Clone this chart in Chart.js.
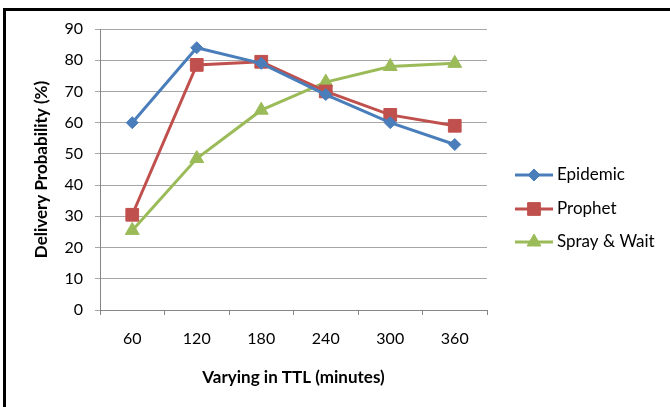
<!DOCTYPE html>
<html>
<head>
<meta charset="utf-8">
<script src="https://cdn.jsdelivr.net/npm/chart.js@4.4.0/dist/chart.umd.min.js"></script>
<style>
    body { margin: 0; background: #fff; overflow: hidden; }
    #frame { position: absolute; left: 3px; top: 8px; width: 700px; height: 450px; border: 3px solid #000; box-sizing: border-box; }
    #wrap { position: absolute; left: 0; top: 0; width: 670px; height: 407px; }
</style>
</head>
<body>
<div id="frame"></div>
<div id="wrap"><canvas id="ttlChart" width="670" height="407"></canvas></div>
<script>
const ttlLabels = ['60', '120', '180', '240', '300', '360'];
const epidemicValues = [60, 84, 79, 69, 60, 53];
const prophetValues = [30.5, 78.5, 79.5, 70, 62.5, 59];
const sprayWaitValues = [25.5, 48.5, 64, 73, 78, 79];

const fontFamily = 'Lato, "Noto Sans", sans-serif';

// Excel-style legend: short line with the marker in the middle
const lineLegend = {
    id: 'lineLegend',
    afterDraw: function (chart) {
        const ctx = chart.ctx;
        const x0 = 515, x1 = 553;
        const rows = [175, 209, 242];
        chart.data.datasets.forEach(function (ds, i) {
            const y = rows[i];
            ctx.save();
            ctx.strokeStyle = ds.borderColor;
            ctx.lineWidth = 3;
            ctx.beginPath();
            ctx.moveTo(x0, y);
            ctx.lineTo(x1, y);
            ctx.stroke();
            ctx.fillStyle = ds.pointBackgroundColor;
            ctx.strokeStyle = ds.pointBorderColor;
            ctx.lineWidth = 1;
            Chart.helpers.drawPoint(ctx, { pointStyle: ds.pointStyle, radius: ds.pointRadius, rotation: 0, borderWidth: 1 }, (x0 + x1) / 2, y);
            ctx.fillStyle = '#000';
            ctx.font = '17px ' + fontFamily;
            ctx.textBaseline = 'middle';
            ctx.textAlign = 'left';
            ctx.fillText(ds.label, x1 + 4, y);
            ctx.restore();
        });
    }
};

function seriesStyle(color, style, radius) {
    return {
        borderColor: color,
        backgroundColor: color,
        pointBackgroundColor: color,
        pointBorderColor: color,
        pointStyle: style,
        pointRadius: radius,
        pointHoverRadius: radius,
        pointBorderWidth: 1,
        borderWidth: 3,
        tension: 0,
        fill: false
    };
}

const ctx = document.getElementById('ttlChart').getContext('2d');
window.ttlChart = new Chart(ctx, {
    type: 'line',
    data: {
        labels: ttlLabels,
        datasets: [
            Object.assign({ label: 'Epidemic', data: epidemicValues }, seriesStyle('#4A7EBB', 'rectRot', 6)),
            Object.assign({ label: 'Prophet', data: prophetValues }, seriesStyle('#C0504D', 'rect', 9)),
            Object.assign({ label: 'Spray & Wait', data: sprayWaitValues }, seriesStyle('#9BBB59', 'triangle', 8))
        ]
    },
    options: {
        responsive: false,
        animation: false,
        devicePixelRatio: 1,
        layout: {
            padding: { left: 22, right: 183, top: 29, bottom: 0 }
        },
        scales: {
            x: {
                offset: true,
                afterFit: function (s) { s.height = 97; },
                grid: { offset: true, drawOnChartArea: false, drawTicks: true, tickLength: 5, color: '#868686' },
                border: { color: '#868686', width: 1 },
                ticks: { color: '#000', padding: 14, font: { family: fontFamily, size: 16 } },
                title: {
                    display: true,
                    text: 'Varying in TTL (minutes)',
                    color: '#000',
                    padding: { top: 0, bottom: 19 },
                    font: { family: fontFamily, size: 17, weight: 'bold', lineHeight: 1.2 }
                }
            },
            y: {
                min: 0,
                max: 90,
                afterFit: function (s) { s.width = 78; },
                grid: { color: '#a6a6a6', tickLength: 5 },
                border: { color: '#868686', width: 1 },
                ticks: { stepSize: 10, color: '#000', padding: 12, font: { family: fontFamily, size: 16 } },
                title: {
                    display: true,
                    text: 'Delivery Probability (%)',
                    color: '#000',
                    padding: { top: 9, bottom: 0 },
                    font: { family: fontFamily, size: 17, weight: 'bold', lineHeight: 1.2 }
                }
            }
        },
        plugins: {
            legend: { display: false },
            tooltip: { enabled: false }
        }
    },
    plugins: [lineLegend]
});
</script>
</body>
</html>
